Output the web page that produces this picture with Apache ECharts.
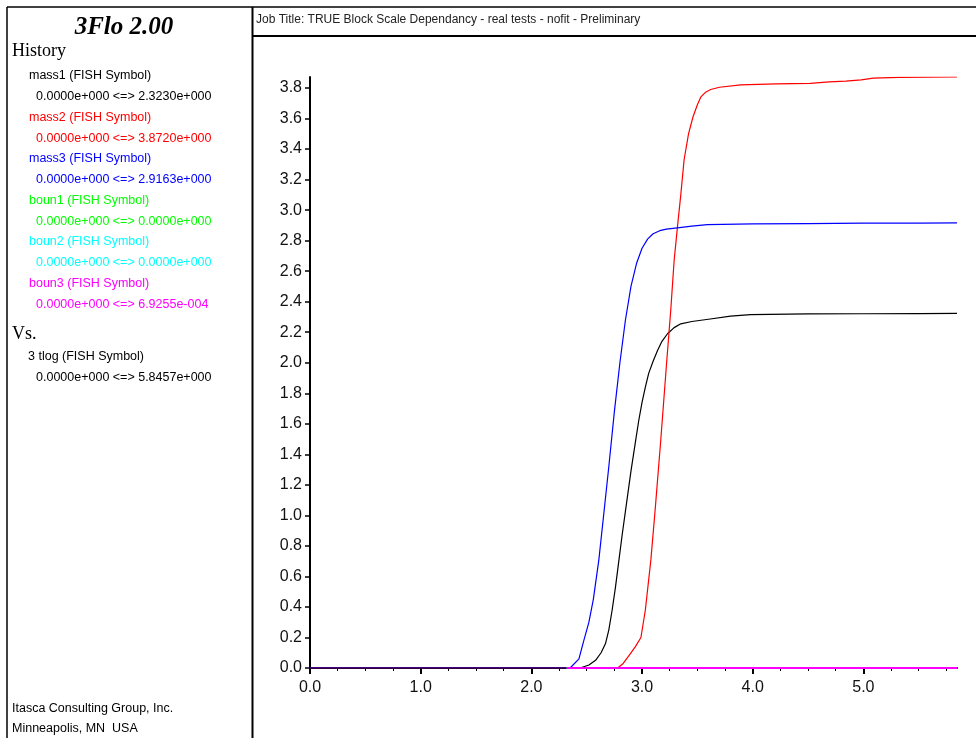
<!DOCTYPE html>
<html>
<head>
<meta charset="utf-8">
<script src="https://cdn.jsdelivr.net/npm/echarts@6/dist/echarts.min.js"></script>
<style>
  html, body { margin: 0; padding: 0; background: #fff; }
  #chart { width: 976px; height: 738px; }
</style>
</head>
<body>
<div id="chart"></div>
<script>
// history values (x = 3 tlog)
const mass1X = [0, 2.44, 2.52, 2.58, 2.63, 2.67, 2.70, 2.73, 2.76, 2.79, 2.82, 2.86, 2.90, 2.94, 2.97, 3.00, 3.03, 3.06, 3.10, 3.14, 3.18, 3.23, 3.29, 3.35, 3.45, 3.6, 3.8, 3.98, 4.5, 5.0, 5.5, 5.8457]
const mass1Y = [0, 0, 0.02, 0.05, 0.10, 0.16, 0.25, 0.38, 0.53, 0.70, 0.87, 1.08, 1.29, 1.48, 1.62, 1.74, 1.84, 1.93, 2.01, 2.08, 2.14, 2.19, 2.23, 2.255, 2.27, 2.285, 2.305, 2.315, 2.32, 2.321, 2.322, 2.323]

const mass2X = [0, 2.78, 2.83, 2.88, 2.94, 2.99, 3.03, 3.08, 3.12, 3.17, 3.22, 3.26, 3.29, 3.32, 3.35, 3.38, 3.42, 3.46, 3.50, 3.53, 3.57, 3.62, 3.7, 3.89, 4.21, 4.52, 4.69, 4.84, 4.98, 5.09, 5.32, 5.8457]
const mass2Y = [0, 0, 0.03, 0.08, 0.14, 0.2, 0.38, 0.71, 1.05, 1.5, 1.98, 2.35, 2.67, 2.89, 3.1, 3.33, 3.5, 3.61, 3.69, 3.74, 3.77, 3.79, 3.805, 3.82, 3.827, 3.83, 3.84, 3.845, 3.853, 3.865, 3.87, 3.872]

const mass3X = [0, 2.35, 2.43, 2.47, 2.52, 2.56, 2.61, 2.65, 2.70, 2.75, 2.80, 2.85, 2.90, 2.95, 3.00, 3.05, 3.10, 3.16, 3.22, 3.30, 3.45, 3.59, 4.0, 4.5, 5.0, 5.5, 5.8457]
const mass3Y = [0, 0, 0.06, 0.17, 0.30, 0.45, 0.71, 0.98, 1.32, 1.68, 2.0, 2.28, 2.50, 2.65, 2.75, 2.81, 2.845, 2.865, 2.875, 2.882, 2.895, 2.905, 2.91, 2.912, 2.914, 2.915, 2.9163]

const bounX = [2.32, 5.8457]
const boun1Y = [0, 0]
const boun2Y = [0, 0]
const boun3Y = [0, 0.00069]

const xTicks = [0, 1, 2, 3, 4, 5]
const xMinorTicks = [0, 0.25, 0.5, 0.75, 1, 1.25, 1.5, 1.75, 2, 2.25, 2.5, 2.75, 3, 3.25, 3.5, 3.75, 4, 4.25, 4.5, 4.75, 5, 5.25, 5.5, 5.75]
const yTicks = [0, 0.2, 0.4, 0.6, 0.8, 1.0, 1.2, 1.4, 1.6, 1.8, 2.0, 2.2, 2.4, 2.6, 2.8, 3.0, 3.2, 3.4, 3.6, 3.8]

const legendRows = [
  { name: 'mass1 (FISH Symbol)', range: '0.0000e+000 <=> 2.3230e+000', color: '#000000' },
  { name: 'mass2 (FISH Symbol)', range: '0.0000e+000 <=> 3.8720e+000', color: '#ff0000' },
  { name: 'mass3 (FISH Symbol)', range: '0.0000e+000 <=> 2.9163e+000', color: '#0000ff' },
  { name: 'boun1 (FISH Symbol)', range: '0.0000e+000 <=> 0.0000e+000', color: '#00ff00' },
  { name: 'boun2 (FISH Symbol)', range: '0.0000e+000 <=> 0.0000e+000', color: '#00ffff' },
  { name: 'boun3 (FISH Symbol)', range: '0.0000e+000 <=> 6.9255e-004', color: '#ff00ff' }
]

const zip = (xs, ys) => xs.map((x, i) => [x, ys[i]])

const sans = '"Liberation Sans", Arial, sans-serif'
const serif = '"Liberation Serif", "Times New Roman", serif'

const textEl = (text, x, y, font, fill) => ({
  type: 'text',
  silent: true,
  style: { text, x, y, font, fill, textVerticalAlign: 'middle' }
})

const lineEl = (x1, y1, x2, y2, w) => ({
  type: 'line',
  silent: true,
  shape: { x1, y1, x2, y2 },
  style: { stroke: '#000', lineWidth: w }
})

const graphics = [
  lineEl(7, 7, 976, 7, 1.5),
  lineEl(7, 7, 7, 738, 1.5),
  lineEl(252.5, 7, 252.5, 738, 2),
  lineEl(253, 36, 976, 36, 2),
  {
    type: 'text',
    silent: true,
    style: {
      text: '3Flo 2.00', x: 124, y: 28, textAlign: 'center', textVerticalAlign: 'middle',
      font: 'italic bold 25px ' + serif, fill: '#000'
    }
  },
  textEl('History', 12, 51, '18px ' + serif, '#000'),
  textEl('Job Title: TRUE Block Scale Dependancy - real tests - nofit - Preliminary', 256, 20, '12px ' + sans, '#222')
]

legendRows.forEach((row, i) => {
  const y = 76 + i * 41.5
  graphics.push(textEl(row.name, 29, y, '12.5px ' + sans, row.color))
  graphics.push(textEl(row.range, 36, y + 20.8, '12.5px ' + sans, row.color))
})
graphics.push(textEl('Vs.', 12, 334, '18px ' + serif, '#000'))
graphics.push(textEl('3 tlog (FISH Symbol)', 28, 357, '12.5px ' + sans, '#000'))
graphics.push(textEl('0.0000e+000 <=> 5.8457e+000', 36, 378, '12.5px ' + sans, '#000'))
graphics.push(textEl('Itasca Consulting Group, Inc.', 12, 709, '12.5px ' + sans, '#000'))
graphics.push(textEl('Minneapolis, MN  USA', 12, 729, '12.5px ' + sans, '#000'))

const lineSeries = (name, data, color, w) => ({
  name,
  type: 'line',
  data,
  symbol: 'none',
  smooth: false,
  silent: true,
  lineStyle: { color, width: w }
})

const chart = echarts.init(document.getElementById('chart'))
chart.setOption({
  animation: false,
  backgroundColor: '#fff',
  grid: { left: 310, right: 19, top: 77, bottom: 70 },
  xAxis: [
    {
      type: 'value',
      min: 0,
      max: 5.8457,
      position: 'bottom',
      splitLine: { show: false },
      axisLine: { onZero: false, lineStyle: { color: '#000', width: 2 } },
      axisTick: { customValues: xTicks, length: 6, lineStyle: { color: '#000', width: 2 } },
      axisLabel: {
        customValues: xTicks,
        margin: 12,
        color: '#111',
        fontFamily: sans,
        fontSize: 16,
        formatter: v => v.toFixed(1)
      }
    },
    {
      type: 'value',
      min: 0,
      max: 5.8457,
      position: 'bottom',
      splitLine: { show: false },
      axisLine: { show: false, onZero: false },
      axisTick: { customValues: xMinorTicks, length: 3, lineStyle: { color: '#000', width: 1 } },
      axisLabel: { show: false }
    }
  ],
  yAxis: {
    type: 'value',
    min: 0,
    max: 3.872,
    splitLine: { show: false },
    axisLine: { onZero: false, lineStyle: { color: '#000', width: 2 } },
    axisTick: { customValues: yTicks, length: 5, lineStyle: { color: '#000', width: 1.5 } },
    axisLabel: {
      customValues: yTicks,
      margin: 8,
      color: '#111',
      fontFamily: sans,
      fontSize: 16,
      formatter: v => v.toFixed(1)
    }
  },
  series: [
    lineSeries('mass1', zip(mass1X, mass1Y), '#000000', 1.2),
    lineSeries('mass2', zip(mass2X, mass2Y), '#ff0000', 1.2),
    lineSeries('mass3', zip(mass3X, mass3Y), '#0000ff', 1.2),
    lineSeries('boun1', zip(bounX, boun1Y), '#00ff00', 2),
    lineSeries('boun2', zip(bounX, boun2Y), '#00ffff', 2),
    lineSeries('boun3', zip(bounX, boun3Y), '#ff00ff', 2)
  ],
  graphic: graphics
})
</script>
</body>
</html>
